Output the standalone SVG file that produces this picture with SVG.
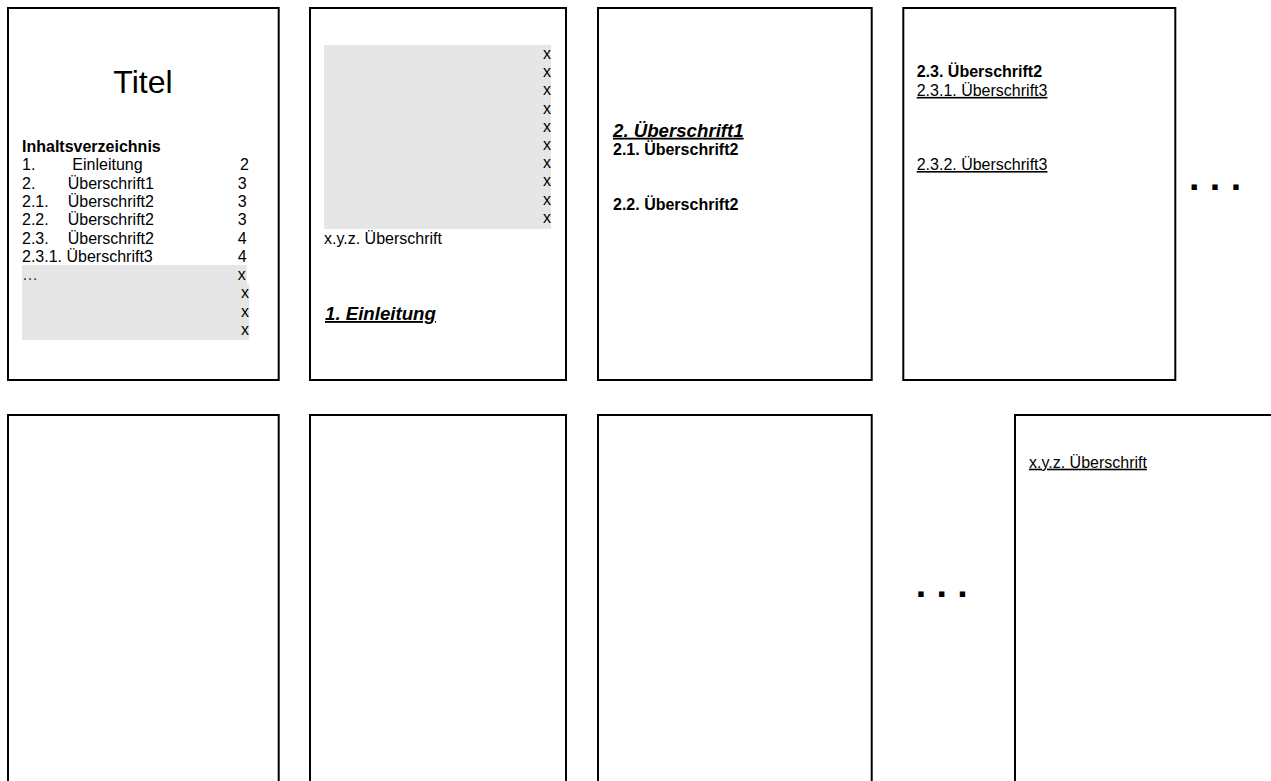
<svg xmlns="http://www.w3.org/2000/svg" width="1271" height="781" viewBox="0 0 1271 781">
<style>
  .page { fill: #ffffff; stroke: #000000; stroke-width: 2; }
  .shade { fill: #e6e6e6; }
  text { font-family: "Liberation Sans", Arial, sans-serif; fill: #000000; }
  .t16 { font-size: 16px; }
  .b16 { font-size: 16px; font-weight: bold; }
  .h1 { font-size: 18.67px; font-weight: bold; font-style: italic; text-decoration: underline; }
  .u16 { font-size: 16px; text-decoration: underline; }
  .title { font-size: 32px; }
  .dots { font-size: 37.5px; font-weight: bold; }
</style>
<rect x="0" y="0" width="1271" height="781" fill="#ffffff"/>

<g id="page1">
  <rect class="page" x="8" y="8" width="270.7" height="372"/>
  <text class="title" x="143" y="93" text-anchor="middle">Titel</text>
  <text class="b16" x="22" y="152">Inhaltsverzeichnis</text>
  <text class="t16" x="22" y="170.3">1.</text>
  <text class="t16" x="72.3" y="170.3">Einleitung</text>
  <text class="t16" x="240" y="170.3">2</text>
  <text class="t16" x="22" y="188.6">2.</text>
  <text class="t16" x="67.7" y="188.6">Überschrift1</text>
  <text class="t16" x="237.7" y="188.6">3</text>
  <text class="t16" x="22" y="206.9">2.1.</text>
  <text class="t16" x="67.7" y="206.9">Überschrift2</text>
  <text class="t16" x="237.7" y="206.9">3</text>
  <text class="t16" x="22" y="225.2">2.2.</text>
  <text class="t16" x="67.7" y="225.2">Überschrift2</text>
  <text class="t16" x="237.7" y="225.2">3</text>
  <text class="t16" x="22" y="243.5">2.3.</text>
  <text class="t16" x="67.7" y="243.5">Überschrift2</text>
  <text class="t16" x="237.7" y="243.5">4</text>
  <text class="t16" x="22" y="261.8">2.3.1. Überschrift3</text>
  <text class="t16" x="237.7" y="261.8">4</text>
  <rect class="shade" x="22" y="265" width="225" height="19.5"/>
  <rect class="shade" x="22" y="284" width="227.3" height="56"/>
  <text class="t16" x="22" y="280.1" style="fill:#333333">…</text>
  <text class="t16" x="237.7" y="280.1">x</text>
  <text class="t16" x="241" y="298.4">x</text>
  <text class="t16" x="241" y="316.7">x</text>
  <text class="t16" x="241" y="335">x</text>
</g>

<g id="page2">
  <rect class="page" x="310" y="8" width="256" height="372"/>
  <rect class="shade" x="324" y="45" width="227" height="184"/>
  <text class="t16" x="543" y="59">x</text>
  <text class="t16" x="543" y="77.2">x</text>
  <text class="t16" x="543" y="95.4">x</text>
  <text class="t16" x="543" y="113.6">x</text>
  <text class="t16" x="543" y="131.8">x</text>
  <text class="t16" x="543" y="150">x</text>
  <text class="t16" x="543" y="168.2">x</text>
  <text class="t16" x="543" y="186.4">x</text>
  <text class="t16" x="543" y="204.6">x</text>
  <text class="t16" x="543" y="222.8">x</text>
  <text class="t16" x="324" y="244">x.y.z. Überschrift</text>
  <text class="h1" x="325" y="320">1. Einleitung</text>
</g>

<g id="page3">
  <rect class="page" x="598" y="8" width="273.7" height="372"/>
  <text class="h1" x="613" y="136.7">2. Überschrift1</text>
  <text class="b16" x="613" y="155">2.1. Überschrift2</text>
  <text class="b16" x="613" y="209.8">2.2. Überschrift2</text>
</g>

<g id="page4">
  <rect class="page" x="903.3" y="8" width="272" height="372"/>
  <text class="b16" x="916.7" y="77.3">2.3. Überschrift2</text>
  <text class="u16" x="916.7" y="95.9">2.3.1. Überschrift3</text>
  <text class="u16" x="916.7" y="170">2.3.2. Überschrift3</text>
</g>

<g id="ellipsis-top">
  <text class="dots" x="1189" y="190">. . .</text>
</g>

<g id="page5">
  <rect class="page" x="8" y="415" width="270.7" height="400"/>
</g>

<g id="page6">
  <rect class="page" x="310" y="415" width="256" height="400"/>
</g>

<g id="page7">
  <rect class="page" x="598" y="415" width="273.7" height="400"/>
</g>

<g id="ellipsis-bottom">
  <text class="dots" x="915.7" y="596.7">. . .</text>
</g>

<g id="page8">
  <rect class="page" x="1015" y="415" width="300" height="400"/>
  <text class="u16" x="1029" y="467.7">x.y.z. Überschrift</text>
</g>
</svg>
